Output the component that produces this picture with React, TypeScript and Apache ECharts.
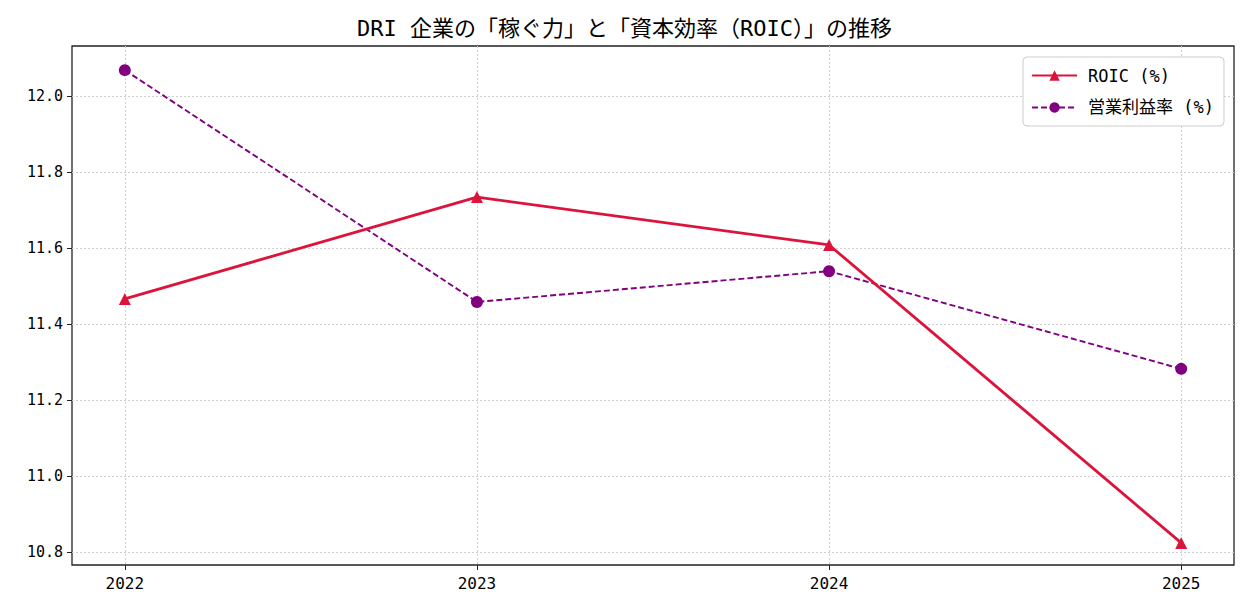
import React, { useEffect, useRef } from "react";
import * as echarts from "echarts";

const years = [2022, 2023, 2024, 2025];
const roic = [11.466, 11.734, 11.608, 10.824];
const opMargin = [12.068, 11.458, 11.539, 11.282];
const yTicks = [10.8, 11.0, 11.2, 11.4, 11.6, 11.8, 12.0];
const titleText = "DRI 企業の「稼ぐ力」と「資本効率（ROIC）」の推移";
const seriesNames = ["ROIC (%)", "営業利益率 (%)"];

const FONT = "'DejaVu Sans Mono', 'Noto Sans CJK JP', sans-serif";

export default function App() {
  const ref = useRef<HTMLDivElement>(null);
  useEffect(() => {
    if (!ref.current) return;
    const chart = echarts.init(ref.current, undefined, { renderer: "svg" });
    chart.setOption({
      animation: false,
      backgroundColor: "#ffffff",
      textStyle: { fontFamily: FONT },
      title: {
        text: titleText,
        left: "center",
        top: 12,
        textStyle: { fontFamily: FONT, fontSize: 22, fontWeight: "normal", color: "#000" },
      },
      grid: {
        left: 72,
        right: 15,
        top: 46,
        bottom: 51,
        show: true,
        borderColor: "#222",
        borderWidth: 1.3,
        containLabel: false,
      },
      legend: {
        right: 25,
        top: 57,
        orient: "vertical",
        backgroundColor: "#fff",
        borderColor: "#ccc",
        borderWidth: 1,
        borderRadius: 4,
        padding: [10, 10, 10, 8],
        itemGap: 15,
        itemWidth: 45,
        itemHeight: 13,
        textStyle: { fontFamily: FONT, fontSize: 17, color: "#000", padding: [0, 0, 0, 6] },
        data: seriesNames,
      },
      xAxis: {
        type: "value",
        min: 2021.85,
        max: 2025.15,
        axisLine: { show: false },
        axisTick: { show: true, length: 5, customValues: years, lineStyle: { color: "#222" } },
        axisLabel: {
          customValues: years,
          formatter: (v: number) => String(Math.round(v)),
          fontSize: 16,
          color: "#000",
          margin: 10,
          fontFamily: FONT,
        },
        splitLine: { show: true, lineStyle: { color: "#d0d0d0", type: [2, 2], width: 1 } },
      },
      yAxis: {
        type: "value",
        min: 10.8 - 13 / 380,
        max: 12.0 + 50 / 380,
        axisLine: { show: false },
        axisTick: { show: true, length: 5, customValues: yTicks, lineStyle: { color: "#222" } },
        axisLabel: {
          customValues: yTicks,
          formatter: (v: number) => v.toFixed(1),
          fontSize: 15,
          color: "#000",
          margin: 9,
          fontFamily: FONT,
        },
        splitLine: { show: true, lineStyle: { color: "#d0d0d0", type: [2, 2], width: 1 } },
      },
      series: [
        {
          name: seriesNames[0],
          type: "line",
          data: years.map((y, i) => [y, roic[i]]),
          symbol: "triangle",
          symbolSize: 12,
          lineStyle: { color: "#DC143C", width: 2.8 },
          itemStyle: { color: "#DC143C" },
          z: 3,
        },
        {
          name: seriesNames[1],
          type: "line",
          data: years.map((y, i) => [y, opMargin[i]]),
          symbol: "circle",
          symbolSize: 12,
          lineStyle: { color: "#800080", width: 1.9, type: [6, 3] },
          itemStyle: { color: "#800080" },
          z: 2,
        },
      ],
    });
    return () => chart.dispose();
  }, []);
  return (
    <div
      ref={ref}
      style={{ position: "absolute", left: 0, top: 0, width: 1249, height: 616 }}
    />
  );
}
